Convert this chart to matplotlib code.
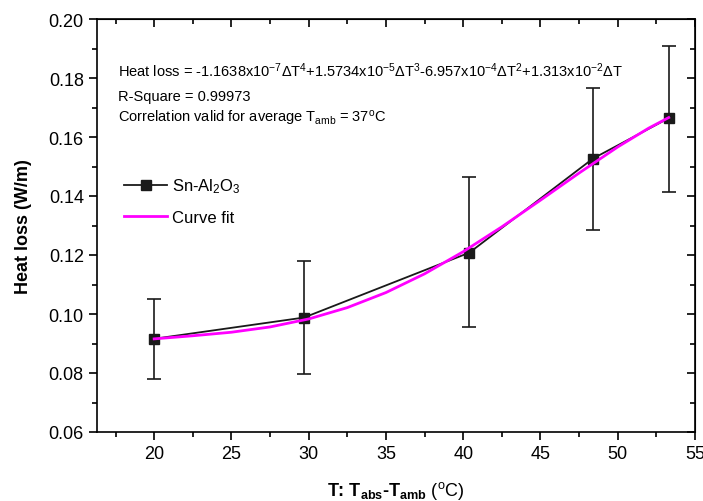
import numpy as np
import matplotlib.pyplot as plt
from matplotlib.ticker import MultipleLocator

plt.rcParams['font.family'] = ['Liberation Sans', 'DejaVu Sans']
plt.rcParams['mathtext.fontset'] = 'custom'
plt.rcParams['mathtext.rm'] = 'Liberation Sans'
plt.rcParams['mathtext.it'] = 'Liberation Sans'
plt.rcParams['mathtext.bf'] = 'Liberation Sans:bold'
plt.rcParams['mathtext.default'] = 'regular'

# измеренные точки
dT = [20.0, 29.7, 40.4, 48.4, 53.3]
heat_loss = [0.0916, 0.0988, 0.1208, 0.1527, 0.1664]
err_up = [0.1052, 0.1180, 0.1465, 0.1765, 0.1910]
err_low = [0.0780, 0.0795, 0.0955, 0.1285, 0.1415]

# аппроксимирующая кривая
fit_dT = [20.0, 22.5, 25.0, 27.5, 30.0, 32.5, 35.0, 37.5, 40.0, 42.5, 45.0, 47.5, 50.0, 52.0, 53.3]
fit_loss = [0.09157, 0.09262, 0.09382, 0.09561, 0.09832, 0.10217, 0.10727, 0.11362,
            0.12112, 0.12955, 0.13859, 0.14779, 0.15663, 0.16299, 0.16659]

fig = plt.figure(figsize=(7.03, 5.02), dpi=100)
ax = fig.add_axes([97 / 703, 1 - 433 / 502, (695 - 97) / 703, (433 - 20) / 502])

yerr = [np.array(heat_loss) - np.array(err_low), np.array(err_up) - np.array(heat_loss)]
ax.errorbar(dT, heat_loss, yerr=yerr, fmt='none', ecolor='#1a1a1a', elinewidth=1.2,
            capsize=5, capthick=1.2, zorder=2)
ax.plot(dT, heat_loss, color='#1a1a1a', lw=1.3, marker='s', ms=7, zorder=3,
        label='Sn-Al$_2$O$_3$')
ax.plot(fit_dT, fit_loss, color='#ff00ff', lw=2, zorder=4, label='Curve fit')

ax.set_xlim(16.3, 55)
ax.set_ylim(0.06, 0.20)
ax.xaxis.set_major_locator(MultipleLocator(5))
ax.xaxis.set_minor_locator(MultipleLocator(2.5))
ax.yaxis.set_major_locator(MultipleLocator(0.02))
ax.yaxis.set_minor_locator(MultipleLocator(0.01))
ax.yaxis.set_major_formatter(plt.FormatStrFormatter('%.2f'))
ax.tick_params(which='both', direction='out', labelsize=13, width=1.2)
ax.tick_params(which='major', length=6)
ax.tick_params(which='minor', length=3.5)
for s in ax.spines.values():
    s.set_linewidth(1.2)

# правая и верхняя оси с тиками внутрь
ax2 = ax.secondary_yaxis('right')
ax2.yaxis.set_major_locator(MultipleLocator(0.02))
ax2.yaxis.set_minor_locator(MultipleLocator(0.01))
ax2.tick_params(which='both', direction='in', labelright=False, width=1.2)
ax2.tick_params(which='major', length=6)
ax2.tick_params(which='minor', length=3.5)
ax3 = ax.secondary_xaxis('top')
ax3.xaxis.set_major_locator(MultipleLocator(5))
ax3.xaxis.set_minor_locator(MultipleLocator(2.5))
ax3.tick_params(which='both', direction='in', labeltop=False, width=1.2)
ax3.tick_params(which='major', length=6)
ax3.tick_params(which='minor', length=3.5)

ax.set_ylabel('Heat loss (W/m)', fontsize=13, fontweight='bold', labelpad=12)
ax.set_xlabel(r'T: T$_{abs}$-T$_{amb}$ $\mathrm{(^{o}C)}$', fontsize=13,
              fontweight='bold', labelpad=12)

ax.text(0.035, 0.862,
        r'Heat loss = -1.1638x10$^{-7}$$\Delta$T$^{4}$+1.5734x10$^{-5}$$\Delta$T$^{3}$'
        r'-6.957x10$^{-4}$$\Delta$T$^{2}$+1.313x10$^{-2}$$\Delta$T',
        transform=ax.transAxes, fontsize=10.5)
ax.text(0.035, 0.803, 'R-Square = 0.99973', transform=ax.transAxes, fontsize=10.5)
ax.text(0.035, 0.752, r'Correlation valid for average T$_{amb}$ = 37$^{o}$C',
        transform=ax.transAxes, fontsize=10.5)

ax.legend(loc='upper left', bbox_to_anchor=(0.02, 0.655), frameon=False, fontsize=12,
          handlelength=2.6, handletextpad=0.3, labelspacing=0.9)

fig.savefig('out.png', dpi=100)
